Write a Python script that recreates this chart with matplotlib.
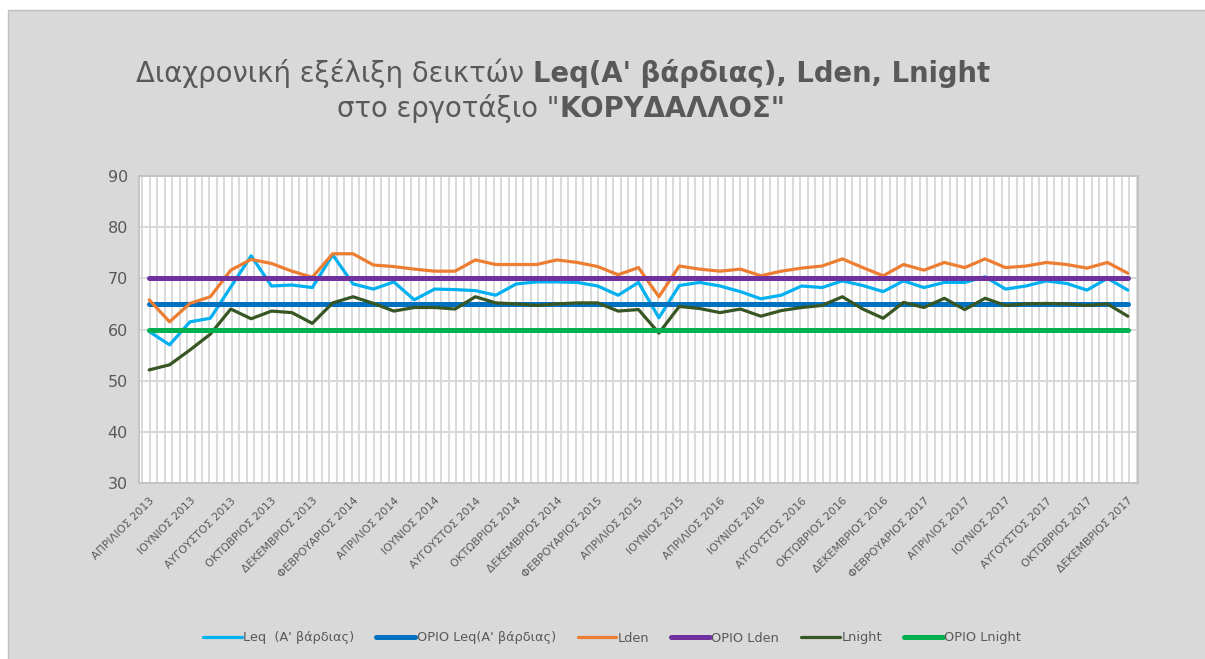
import numpy as np
import matplotlib
matplotlib.use('Agg')
import matplotlib.pyplot as plt
from matplotlib.patches import Rectangle

plt.rcParams['font.family'] = ['DejaVu Sans']

W, H = 1205, 659
GREY_TXT = '#595959'

# μήνες μετρήσεων (λείπει το δεύτερο εξάμηνο 2015 / αρχές 2016)
MONTHS = ['ΙΑΝΟΥΑΡΙΟΣ', 'ΦΕΒΡΟΥΑΡΙΟΣ', 'ΜΑΡΤΙΟΣ', 'ΑΠΡΙΛΙΟΣ', 'ΜΑΙΟΣ', 'ΙΟΥΝΙΟΣ',
          'ΙΟΥΛΙΟΣ', 'ΑΥΓΟΥΣΤΟΣ', 'ΣΕΠΤΕΜΒΡΙΟΣ', 'ΟΚΤΩΒΡΙΟΣ', 'ΝΟΕΜΒΡΙΟΣ', 'ΔΕΚΕΜΒΡΙΟΣ']


def month_range(y0, m0, y1, m1):
    out = []
    y, m = y0, m0
    while (y, m) <= (y1, m1):
        out.append(f'{MONTHS[m - 1]} {y}')
        m += 1
        if m > 12:
            m, y = 1, y + 1
    return out


categories = month_range(2013, 4, 2015, 6) + ['ΜΑΡΤΙΟΣ 2016'] + month_range(2016, 4, 2017, 12)

leq = [59.6, 57.0, 61.5, 62.2, 68.3, 74.4, 68.5, 68.7, 68.2, 74.6, 68.9, 67.9, 69.3, 65.8, 67.9, 67.8,
       67.6, 66.7, 68.9, 69.3, 69.3, 69.2, 68.5, 66.7, 69.2, 62.3, 68.6, 69.2, 68.5, 67.4, 66.0, 66.7,
       68.5, 68.2, 69.5, 68.6, 67.4, 69.5, 68.2, 69.2, 69.2, 70.3, 67.9, 68.5, 69.5, 69.0, 67.7, 70.0, 67.7]
lden = [65.8, 61.5, 65.1, 66.4, 71.6, 73.7, 72.9, 71.4, 70.2, 74.8, 74.8, 72.6, 72.3, 71.8, 71.4, 71.4,
        73.6, 72.7, 72.7, 72.7, 73.6, 73.1, 72.3, 70.7, 72.1, 66.4, 72.4, 71.8, 71.4, 71.8, 70.5, 71.4,
        72.0, 72.4, 73.8, 72.1, 70.5, 72.7, 71.6, 73.1, 72.1, 73.8, 72.1, 72.4, 73.1, 72.7, 72.0, 73.1, 71.0]
lnight = [52.1, 53.1, 56.0, 59.1, 64.0, 62.1, 63.6, 63.3, 61.2, 65.2, 66.4, 65.1, 63.6, 64.3, 64.3, 64.0,
          66.4, 65.2, 65.0, 64.7, 65.0, 65.2, 65.2, 63.6, 63.9, 59.3, 64.5, 64.1, 63.3, 64.0, 62.6, 63.7,
          64.3, 64.7, 66.4, 64.0, 62.2, 65.3, 64.3, 66.1, 63.9, 66.1, 64.7, 65.0, 65.1, 65.0, 64.7, 65.0, 62.6]
orio_leq = 65
orio_lden = 70
orio_lnight = 60

x = np.arange(len(categories))

fig = plt.figure(figsize=(W / 100, H / 100), dpi=100)
fig.patch.set_facecolor('white')
fig.patches.append(Rectangle((8 / W, -0.05), 1.1, 1 - 10 / H + 0.05, transform=fig.transFigure,
                             facecolor='#d9d9d9', edgecolor='#bfbfbf', lw=1, zorder=-10))

ax = fig.add_axes([139 / W, 1 - 483 / H, (1138 - 139) / W, (483 - 176) / H])
ax.set_facecolor('white')

series = [
    ('Leq  (Α\' βάρδιας)', leq, '#00b0f0', 2.3),
    ('ΟΡΙΟ Leq(Α\' βάρδιας)', [orio_leq] * len(x), '#0070c0', 3.6),
    ('Lden', lden, '#ed7d31', 2.3),
    ('ΟΡΙΟ Lden', [orio_lden] * len(x), '#7030a0', 3.6),
    ('Lnight', lnight, '#375623', 2.3),
    ('ΟΡΙΟ Lnight', [orio_lnight] * len(x), '#00b050', 3.6),
]
for i, (name, vals, col, lw) in enumerate(series):
    ax.plot(x, vals, color=col, lw=lw, label=name, solid_capstyle='round',
            solid_joinstyle='round', zorder=3 + i)

ax.set_xlim(-0.5, len(x) - 0.5)
ax.set_ylim(30, 90)
ax.set_yticks(range(30, 91, 10))
ax.set_xticks(x[::2])
ax.set_xticklabels(categories[::2], rotation=45, ha='right', rotation_mode='anchor',
                   fontsize=7.8, color=GREY_TXT)
ax.set_xticks(np.arange(-0.344, len(x) - 0.5, 0.3667), minor=True)
ax.tick_params(axis='x', which='both', length=0, pad=9)
ax.tick_params(axis='y', length=0, pad=8, labelsize=11.5, labelcolor=GREY_TXT)

ax.grid(False)
ax.xaxis.grid(True, which='minor', color='#d9d9d9', lw=1.4)
ax.yaxis.grid(True, which='major', color='#d9d9d9', lw=1.4)
ax.set_axisbelow(True)
for sp in ax.spines.values():
    sp.set_color('#bfbfbf')
    sp.set_linewidth(1.2)

# τίτλος με έντονα τμήματα
renderer = fig.canvas.get_renderer()


def mixed_line(parts, y_px, cx_px, size):
    texts = []
    for s, w in parts:
        texts.append(fig.text(0, 1 - y_px / H, s, fontsize=size, fontweight=w,
                              color=GREY_TXT, ha='left', va='baseline'))
    widths = [t.get_window_extent(renderer).width for t in texts]
    left = cx_px - sum(widths) / 2
    for t, w in zip(texts, widths):
        t.set_x(left / W)
        left += w


mixed_line([('Διαχρονική εξέλιξη δεικτών ', 'normal'),
            ('Leq(Α\' βάρδιας), Lden, Lnight', 'bold')], 82, 563, 19.8)
mixed_line([('στο εργοτάξιο "', 'normal'), ('ΚΟΡΥΔΑΛΛΟΣ"', 'bold')], 117, 561, 19.8)

fig.legend(loc='center', bbox_to_anchor=(612 / W, 1 - 638 / H), ncol=6, frameon=False,
           fontsize=9.3, labelcolor=GREY_TXT, handlelength=3.0, handletextpad=0.1,
           columnspacing=1.7)

fig.savefig('out.png', dpi=100, facecolor=fig.get_facecolor())
